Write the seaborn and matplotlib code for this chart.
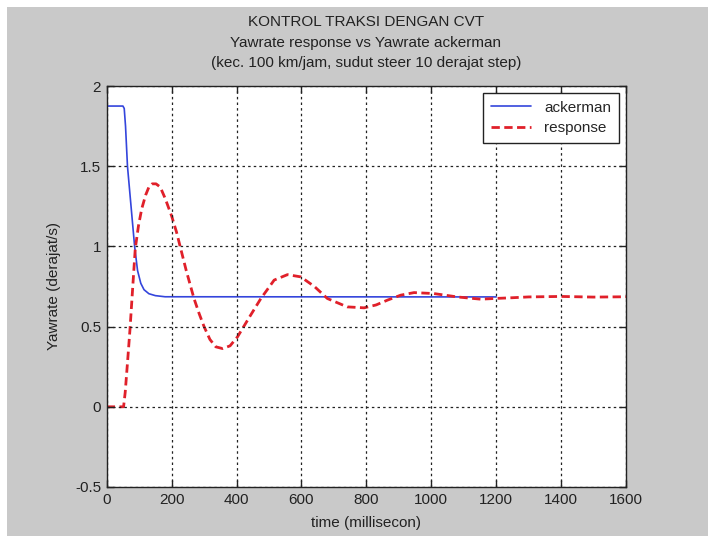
import matplotlib
matplotlib.use("Agg")
import matplotlib.pyplot as plt
import seaborn as sns
import pandas as pd
from matplotlib.patches import Rectangle

# ---- data ----
ack_t = [0, 0, 50, 54, 58, 64, 75, 86, 95, 105, 115, 130, 150, 180, 1200]
ack_v = [0, 1.875, 1.875, 1.86, 1.75, 1.5, 1.25, 1.0, 0.85, 0.77, 0.73, 0.705,
         0.693, 0.686, 0.685]

resp_t = [0, 52, 57, 65, 72, 80, 88, 98, 108, 120, 130, 140, 152, 165, 180, 200,
          215, 228, 245, 269, 285, 300, 318, 336, 357, 380, 403, 440, 475, 516,
          557, 598, 640, 680, 741, 793, 830, 865, 906, 947, 1008, 1080, 1152,
          1193, 1250, 1300, 1400, 1500, 1600]
resp_v = [0, 0, 0.09, 0.30, 0.49, 0.74, 0.986, 1.13, 1.235, 1.32, 1.37, 1.39,
          1.39, 1.37, 1.30, 1.19, 1.09, 0.986, 0.85, 0.675, 0.58, 0.50, 0.42,
          0.374, 0.363, 0.38, 0.436, 0.56, 0.675, 0.79, 0.824, 0.81, 0.75, 0.675,
          0.623, 0.617, 0.635, 0.665, 0.696, 0.712, 0.706, 0.685, 0.671, 0.675,
          0.68, 0.685, 0.688, 0.684, 0.686]

x_ticks = [0, 200, 400, 600, 800, 1000, 1200, 1400, 1600]
y_ticks = [-0.5, 0, 0.5, 1, 1.5, 2]
y_tick_labels = ["-0.5", "0", "0.5", "1", "1.5", "2"]

title_lines = ["KONTROL TRAKSI DENGAN CVT",
               "Yawrate response vs Yawrate ackerman",
               "(kec. 100 km/jam, sudut steer 10 derajat step)"]

sns.set_style("ticks")
plt.rcParams["font.family"] = ["Liberation Sans", "DejaVu Sans"]

fig = plt.figure(figsize=(7.08, 5.38), dpi=100)
fig.patch.set_facecolor("white")
bg = Rectangle((7 / 708, 2 / 538), 1, 1 - 9 / 538, transform=fig.transFigure,
               facecolor="#c9c9c9", edgecolor="none", zorder=-10)
fig.patches.append(bg)

ax = fig.add_axes([106.7 / 708, 1 - 487 / 538, (626 - 106.7) / 708, (487 - 86) / 538])
ax.set_facecolor("white")

df_a = pd.DataFrame({"t": ack_t, "v": ack_v})
df_r = pd.DataFrame({"t": resp_t, "v": resp_v})
sns.lineplot(data=df_a, x="t", y="v", ax=ax, estimator=None, sort=False,
             color="#3445dc", linewidth=1.2, label="ackerman")
sns.lineplot(data=df_r, x="t", y="v", ax=ax, estimator=None, sort=False,
             color="#e0202a", linewidth=2.0, linestyle="--", label="response",
             dashes=False)
ax.lines[-1].set_dashes((3, 1.6))

ax.set_xlim(0, 1600)
ax.set_ylim(-0.5, 2)
ax.set_xticks(x_ticks)
ax.set_xticklabels([str(v) for v in x_ticks])
ax.set_yticks(y_ticks)
ax.set_yticklabels(y_tick_labels)
ax.tick_params(direction="in", length=5, width=1, top=True, right=True,
               labelsize=11, colors="#222222", pad=4)
for s in ax.spines.values():
    s.set_color("#222222")
    s.set_linewidth(1.0)

ax.grid(True, color="#222222", linestyle=(0, (2, 2.5)), linewidth=0.9)
ax.set_axisbelow(False)
for ln in ax.get_xgridlines() + ax.get_ygridlines():
    ln.set_zorder(1)

ax.set_xlabel("time (millisecon)", fontsize=11, color="#222222", labelpad=7)
ax.set_ylabel("Yawrate (derajat/s)", fontsize=11, color="#222222", labelpad=10)

for i, line in enumerate(title_lines):
    fig.text(366 / 708, 1 - (22 + i * 20.5) / 538, line, ha="center", va="center",
             fontsize=11, color="#222222")

leg = ax.legend(loc="upper right", fontsize=11, frameon=True, fancybox=False,
                edgecolor="#222222", framealpha=1, borderpad=0.5,
                handlelength=2.6, labelspacing=0.45, borderaxespad=0.45,
                handletextpad=0.9)
leg.get_frame().set_linewidth(1.0)

fig.savefig("out.png", dpi=100, facecolor=fig.get_facecolor())
